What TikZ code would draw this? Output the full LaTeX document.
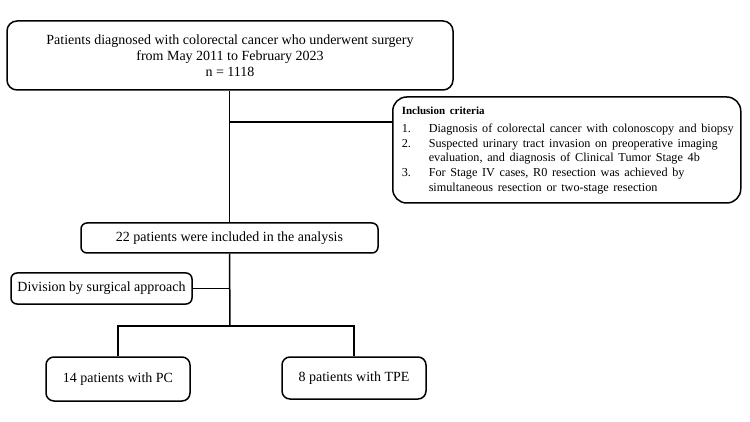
\documentclass[tikz,border=0pt]{standalone}
\usepackage{fontspec}
\setmainfont{Liberation Serif}
\usetikzlibrary{positioning}
\tikzset{
  box/.style={draw,line width=1.5pt,rounded corners=6pt,align=center,inner sep=2pt,font=\fontsize{14}{16}\selectfont},
  link/.style={line width=1.5pt}
}

\begin{document}
\begin{tikzpicture}[x=1pt,y=-1pt]
    \useasboundingbox (0,0) rectangle (750,422);
    \node[box,rounded corners=10pt,minimum width=446pt,minimum height=69pt] (total) at (230,55.5)
      {Patients diagnosed with colorectal cancer who underwent surgery\\from May 2011 to February 2023\\n = 1118};
    \node[box,rounded corners=14pt,text width=330pt,inner xsep=9pt,inner ysep=0pt,minimum height=106pt,align=left,anchor=west] (crit) at (392,150)
      {\fontsize{12.2}{14.8}\selectfont%
       \begin{tabular}{@{}l@{}l@{}}
       \multicolumn{2}{@{}l}{\fontsize{11}{11}\selectfont\bfseries Inclusion criteria}\\[3pt]
       \makebox[27pt][l]{1.} & Diagnosis of colorectal cancer with colonoscopy and biopsy\\
       2. & Suspected urinary tract invasion on preoperative imaging\\
          & evaluation, and diagnosis of Clinical Tumor Stage 4b\\
       3. & For Stage IV cases, R0 resection was achieved by\\
          & simultaneous resection or two-stage resection
       \end{tabular}};
    \node[box,minimum width=297pt,minimum height=30pt] (incl) at (229.5,238) {22 patients were included in the analysis};
    \node[box,minimum width=181pt,minimum height=31pt] (div) at (101.5,288.5) {Division by surgical approach};
    \node[box,rounded corners=8pt,minimum width=144pt,minimum height=44pt] (pc) at (118,379) {14 patients with PC};
    \node[box,rounded corners=8pt,minimum width=144pt,minimum height=42pt] (tpe) at (354,378) {8 patients with TPE};

    \coordinate (fork) at (230,122);
    \coordinate (split) at (230,326);
    \draw[link] (total.south -| incl) -- (incl.north);
    \draw[link] (fork) -- (crit.west |- fork);
    \draw[link] (incl.south) -- (split);
    \draw[link] (div.east) -- (div.east -| incl);
    \draw[link,line join=miter] (pc.north) -- (pc.north |- split) -- (tpe.north |- split) -- (tpe.north);
\end{tikzpicture}
\end{document}
